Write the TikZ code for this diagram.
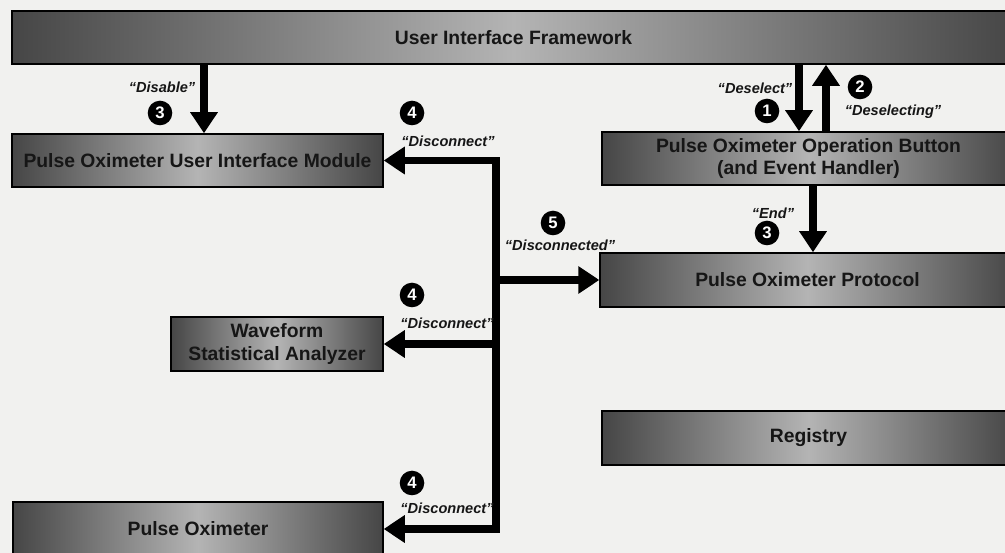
\documentclass[tikz,border=0pt]{standalone}
\usepackage{fontspec}
\setmainfont{Liberation Sans}
\usepackage{tikz}
\usetikzlibrary{arrows.meta,positioning,calc}
\definecolor{boxdark}{RGB}{70,70,70}
\definecolor{boxlight}{RGB}{180,180,180}
\definecolor{paper}{RGB}{241,241,239}
\definecolor{inkgray}{RGB}{22,22,22}

\begin{document}
\begin{tikzpicture}[x=0.02cm,y=-0.02cm,>={Triangle[width=15pt,length=12pt]},
  every node/.style={font=\bfseries\fontsize{11}{13}\selectfont,text=inkgray},
  module/.style={draw=black,line width=0.8pt,left color=boxdark,right color=boxdark,middle color=boxlight,
    minimum height=1.06cm,align=center,inner sep=0pt},
  flow/.style={->,line width=4.2pt},
  msg/.style={font=\bfseries\itshape\fontsize{8.3}{9}\selectfont},
  stepnum/.style={circle,fill=black,text=white,minimum size=14pt,inner sep=0pt,
    font=\bfseries\fontsize{9.5}{10}\selectfont}]
\fill[paper] (0,0) rectangle (1005,553);
\clip (0,0) rectangle (1005,553);
\node[module,minimum width=20.06cm] (ui) at (513.5,37.5) {User Interface Framework};
\node[module,minimum width=7.42cm] (uimod) at (197.5,160.5) {Pulse Oximeter User Interface Module};
\node[module,minimum width=8.26cm] (button) at (808.5,158.5) {Pulse Oximeter Operation Button\\(and Event Handler)};
\node[module,minimum width=8.3cm,minimum height=1.08cm] (protocol) at (807.5,280) {Pulse Oximeter Protocol};
\node[module,minimum width=4.24cm,minimum height=1.08cm] (analyzer) at (277,344) {Waveform\\Statistical Analyzer};
\node[module,minimum width=8.26cm,minimum height=1.08cm] (registry) at (808.5,438) {Registry};
\node[module,minimum width=7.4cm,minimum height=1.08cm] (oximeter) at (198,529) {Pulse Oximeter};
\coordinate (disx) at (204,0);
\coordinate (selx) at (799,0);
\coordinate (unselx) at (826,0);
\coordinate (endx) at (813,0);
\coordinate (spine) at (496,0);
\draw[flow] (ui.south -| disx) -- (uimod.north -| disx);
\draw[flow] (ui.south -| selx) -- (button.north -| selx);
\draw[flow] (button.north -| unselx) -- (ui.south -| unselx);
\draw[flow] (button.south -| endx) -- (protocol.north -| endx);
\draw[line width=4.2pt,line cap=rect] (uimod.east -| spine) -- (oximeter.east -| spine);
\draw[flow] (uimod.east -| spine) -- (uimod.east);
\draw[flow] (analyzer.east -| spine) -- (analyzer.east);
\draw[flow] (oximeter.east -| spine) -- (oximeter.east);
\draw[flow] (protocol.west -| spine) -- (protocol.west);
\node[msg] (disablelbl) at (162,87) {“Disable”};
\node[stepnum] (disablenum) at (160,113) {3};
\node[msg] (selectlbl) at (755,88) {“Deselect”};
\node[stepnum] (selectnum) at (767,111) {1};
\node[stepnum] (unselnum) at (860,87) {2};
\node[msg] (unsellbl) at (893,112) {“Deselecting”};
\node[msg] (endlbl) at (773,213) {“End”};
\node[stepnum] (endnum) at (767,233) {3};
\node[stepnum] (discnumA) at (412,113) {4};
\node[msg] (disclblA) at (448,141) {“Disconnect”};
\node[stepnum] (donenum) at (553,223) {5};
\node[msg] (donelbl) at (560,245) {“Disconnected”};
\node[stepnum] (discnumB) at (412,295) {4};
\node[msg] (disclblB) at (447,323) {“Disconnect”};
\node[stepnum] (discnumC) at (412,483) {4};
\node[msg] (disclblC) at (447,508) {“Disconnect”};
\end{tikzpicture}
\end{document}
